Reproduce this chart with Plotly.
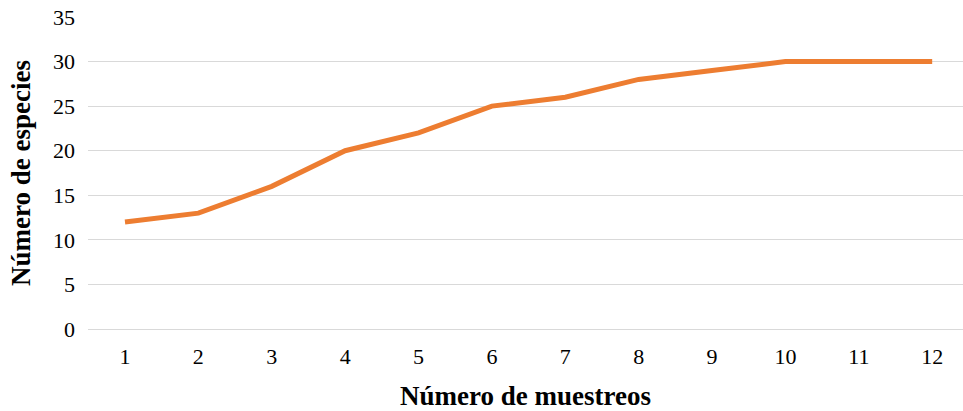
import plotly.graph_objects as go

# Species accumulation: number of samplings vs. cumulative species count
muestreos = ["1", "2", "3", "4", "5", "6", "7", "8", "9", "10", "11", "12"]
especies = [12, 13, 16, 20, 22, 25, 26, 28, 29, 30, 30, 30]
y_ticks = [0, 5, 10, 15, 20, 25, 30, 35]

FONT = "Liberation Serif"

fig = go.Figure(
    go.Scatter(
        x=muestreos,
        y=especies,
        mode="lines",
        line=dict(color="#ED7D31", width=5),
        hoverinfo="x+y",
    )
)

fig.update_layout(
    width=963,
    height=411,
    margin=dict(l=88, r=0, t=17, b=82),
    paper_bgcolor="white",
    plot_bgcolor="white",
    showlegend=False,
    font=dict(family=FONT, color="black", size=22),
)

fig.update_xaxes(
    type="category",
    range=[-0.504, 11.42],
    showgrid=False,
    showline=False,
    zeroline=False,
    ticks="",
    ticklabelstandoff=12,
    tickfont=dict(size=22, family=FONT, color="black"),
    title=dict(
        text="<b>Número de muestreos</b>",
        font=dict(size=27, family=FONT, color="black"),
        standoff=18,
    ),
)

fig.update_yaxes(
    range=[0, 35],
    tickvals=y_ticks,
    showgrid=True,
    gridcolor="#D9D9D9",
    gridwidth=1.3,
    zeroline=True,
    zerolinecolor="#D9D9D9",
    zerolinewidth=1.3,
    showline=False,
    ticks="",
    ticklabelstandoff=12,
    tickfont=dict(size=22, family=FONT, color="black"),
    title=dict(
        text="<b>Número de especies</b>",
        font=dict(size=27, family=FONT, color="black"),
        standoff=14,
    ),
)

fig.write_html("out.html")
